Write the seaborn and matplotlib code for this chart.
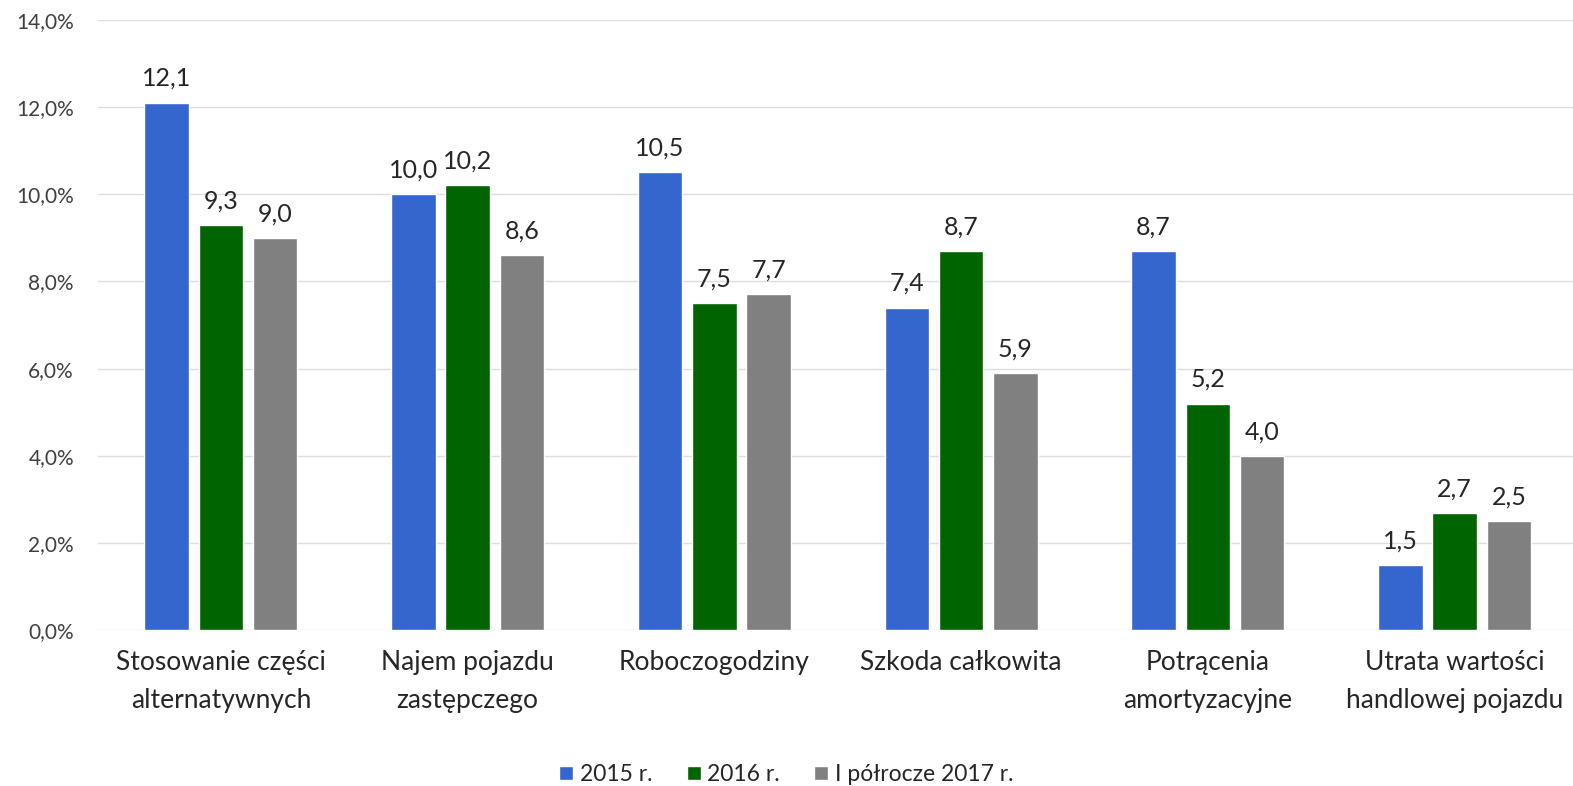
import pandas as pd
import numpy as np
import matplotlib.pyplot as plt
import seaborn as sns
from matplotlib.ticker import FuncFormatter

# dane z wykresu (w %)
KATEGORIE = ['Stosowanie części\nalternatywnych', 'Najem pojazdu\nzastępczego', 'Roboczogodziny',
             'Szkoda całkowita', 'Potrącenia\namortyzacyjne', 'Utrata wartości\nhandlowej pojazdu']
OKRESY = ['2015 r.', '2016 r.', 'I półrocze 2017 r.']
V_2015 = [12.1, 10.0, 10.5, 7.4, 8.7, 1.5]
V_2016 = [9.3, 10.2, 7.5, 8.7, 5.2, 2.7]
V_2017 = [9.0, 8.6, 7.7, 5.9, 4.0, 2.5]
KOLORY = ['#3566cd', '#006400', '#808080']

sns.set_theme(style='white')
plt.rcParams['font.family'] = ['Lato', 'DejaVu Sans']

df = pd.DataFrame({
    'kategoria': KATEGORIE * 3,
    'okres': np.repeat(OKRESY, len(KATEGORIE)),
    'wartosc': V_2015 + V_2016 + V_2017,
})

fig = plt.figure(figsize=(15.73, 7.86), dpi=100)
ax = fig.add_axes([0.062, 0.198, 0.938, 0.777])

sns.barplot(data=df, x='kategoria', y='wartosc', hue='okres', palette=KOLORY, saturation=1,
            width=0.66, gap=0.18, ax=ax, legend=True)

for c in ax.containers:
    ax.bar_label(c, labels=[f"{b.get_height():.1f}".replace('.', ',') for b in c],
                 padding=9, fontsize=18, color='#262626')

ax.set_ylim(0, 14)
ax.set_xlim(-0.5, 5.48)
ax.set_yticks(np.arange(0, 15, 2))
ax.yaxis.set_major_formatter(FuncFormatter(lambda v, p: f"{v:.1f}%".replace('.', ',')))
ax.grid(axis='y', color='#dedede', linewidth=1)
ax.set_axisbelow(True)
for s in ax.spines.values():
    s.set_visible(False)
ax.tick_params(axis='y', length=0, labelsize=15, labelcolor='#404040', pad=17)
ax.tick_params(axis='x', length=0, labelsize=19, labelcolor='#262626', pad=14)
for t in ax.get_xticklabels():
    t.set_linespacing(1.65)
ax.set_xlabel('')
ax.set_ylabel('')

h, l = ax.get_legend_handles_labels()
ax.get_legend().remove()
fig.legend(h, l, loc='lower center', bbox_to_anchor=(0.5, -0.025), ncol=3, frameon=False,
           fontsize=16.5, handlelength=0.6, handleheight=0.6, handletextpad=0.3, columnspacing=1.5,
           labelcolor='#262626')

plt.savefig('out.png', dpi=100)
